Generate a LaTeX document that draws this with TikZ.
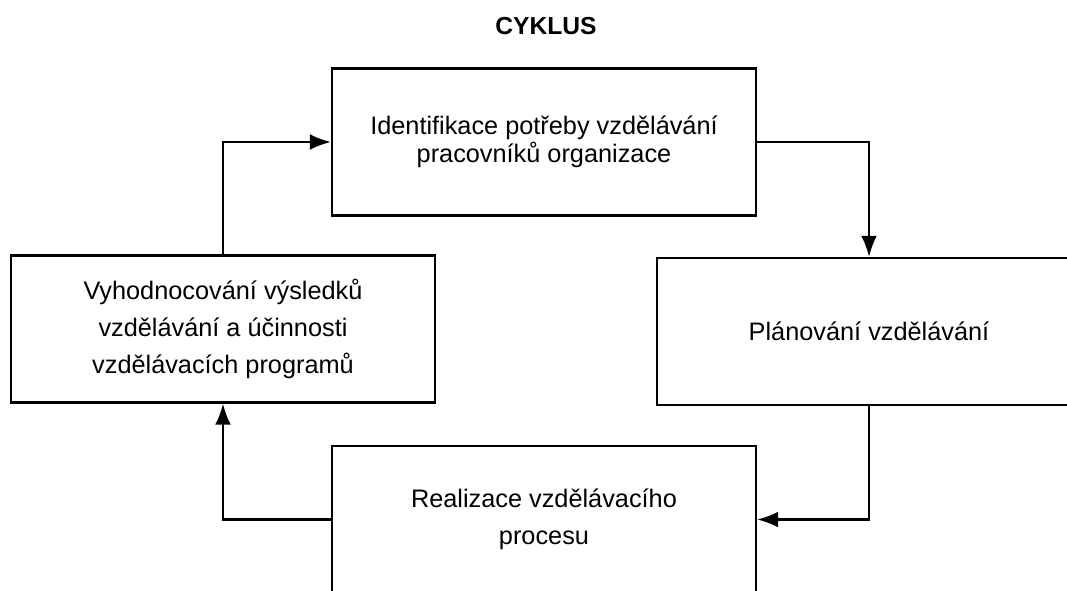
\documentclass[tikz,border=0pt]{standalone}
\usepackage{fontspec}
\setmainfont{Liberation Sans}
\usetikzlibrary{arrows.meta}

\begin{document}
\begin{tikzpicture} [
        stage/.style={draw, line width=1.2pt, minimum width=8.48cm, minimum height=2.94cm, inner sep=0pt, align=center, font=\fontsize{14.4}{21}\selectfont},
        flowline/.style={line width=1.4pt, -{Latex[length=12pt, width=9pt]}},
        heading/.style={font=\fontsize{14}{16}\selectfont\bfseries}
    ]
        \useasboundingbox (0,0) rectangle (21.34,11.8);

        \node [heading] (title) at (10.92, 11.28) {CYKLUS};

        \node [stage, font=\fontsize{14.4}{16}\selectfont] (ident) at (10.88, 8.96) {Identifikace potřeby vzdělávání\\pracovníků organizace};
        \node [stage] (plan)  at (17.38, 5.17) {Plánování vzdělávání};
        \node [stage] (real)  at (10.88, 1.41) {Realizace vzdělávacího\\procesu};
        \node [stage] (eval)  at (4.46, 5.22)  {Vyhodnocování výsledků\\vzdělávání a účinnosti\\vzdělávacích programů};

        % cycle of the four stages
        \draw[flowline] (ident.east) -| (plan.north);
        \draw[flowline] (plan.south) |- (real.east);
        \draw[flowline] (real.west) -| (eval.south);
        \draw[flowline] (eval.north) |- (ident.west);
    \end{tikzpicture}
\end{document}
